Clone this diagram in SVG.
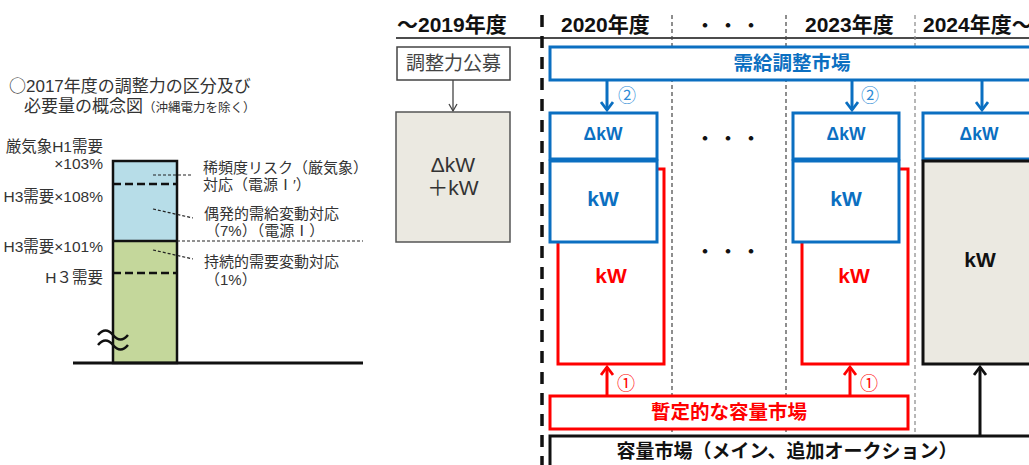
<svg xmlns="http://www.w3.org/2000/svg" width="1029" height="465" viewBox="0 0 1029 465">
<defs>
<style>
text{font-family:"Liberation Sans","Noto Sans CJK JP",sans-serif}
.cjk{font-family:"Noto Sans CJK JP",sans-serif}
.lt{font-size:15.5px;fill:#333}
.hdr{font-size:21px;font-weight:bold;fill:#111}
.blue{fill:#0b6fc1;font-weight:bold}
.red{fill:#ff0000;font-weight:bold}
.bk{fill:#111;font-weight:bold}
.bbox{fill:#fff;stroke:#0b6fc1;stroke-width:3}
.thin{stroke:#444;stroke-width:1.2;stroke-dasharray:4 3;fill:none}
.lead{stroke:#222;stroke-width:1.2;stroke-dasharray:3 2;fill:none}
.num{font-family:"Noto Sans CJK JP",sans-serif;font-size:18px}
</style>
<marker id="ab" markerWidth="12" markerHeight="14" refX="9" refY="7" orient="auto" markerUnits="userSpaceOnUse"><path d="M1 1 L9 7 L1 13" fill="none" stroke="#0b6fc1" stroke-width="2.8"/></marker>
<marker id="ar" markerWidth="12" markerHeight="14" refX="9" refY="7" orient="auto" markerUnits="userSpaceOnUse"><path d="M1 1 L9 7 L1 13" fill="none" stroke="#ff0000" stroke-width="2.8"/></marker>
<marker id="ak" markerWidth="12" markerHeight="14" refX="9" refY="7" orient="auto" markerUnits="userSpaceOnUse"><path d="M1 1 L9 7 L1 13" fill="none" stroke="#111" stroke-width="2.8"/></marker>
<marker id="ag" markerWidth="10" markerHeight="10" refX="8" refY="5" orient="auto" markerUnits="userSpaceOnUse"><path d="M1 1 L8 5 L1 9" fill="none" stroke="#444" stroke-width="1.3"/></marker>
</defs>
<rect width="1029" height="465" fill="#fff"/>

<g id="left-chart">
<text x="9" y="92" class="lt" style="font-size:17px"><tspan class="cjk">○</tspan>2017年度の調整力の区分及び</text>
<text x="24" y="112" class="lt" style="font-size:17px">必要量の概念図<tspan style="font-size:12.5px">（沖縄電力を除く）</tspan></text>
<rect x="113" y="161" width="64" height="80" fill="#b7dde8"/>
<rect x="113" y="241" width="64" height="122" fill="#c4d79b"/>
<rect x="113" y="161" width="64" height="202" fill="none" stroke="#111" stroke-width="2.5"/>
<line x1="113" y1="241" x2="177" y2="241" stroke="#111" stroke-width="2.5"/>
<line x1="113" y1="184" x2="177" y2="184" stroke="#111" stroke-width="2.5" stroke-dasharray="8 4"/>
<line x1="113" y1="273" x2="177" y2="273" stroke="#111" stroke-width="2.5" stroke-dasharray="8 4"/>
<line x1="73" y1="363" x2="363" y2="363" stroke="#111" stroke-width="3"/>
<line x1="177" y1="241" x2="363" y2="241" class="lead"/>
<line x1="153" y1="175" x2="193" y2="175" class="lead"/>
<line x1="153" y1="209" x2="193" y2="218" class="lead"/>
<line x1="153" y1="250" x2="193" y2="259" class="lead"/>
<path d="M98 335 q7.5 -9 15 0 t15 0 M98 345 q7.5 -9 15 0 t15 0" fill="none" stroke="#111" stroke-width="2.5"/>
<text x="103" y="152" class="lt" text-anchor="end">厳気象H1需要</text>
<text x="103" y="169" class="lt" text-anchor="end">×103%</text>
<text x="103" y="202" class="lt" text-anchor="end">H3需要×108%</text>
<text x="103" y="252" class="lt" text-anchor="end">H3需要×101%</text>
<text x="103" y="283" class="lt" text-anchor="end">H３需要</text>
<text x="203" y="173" class="lt" style="font-size:15px">稀頻度リスク（厳気象）</text>
<text x="203" y="190" class="lt" style="font-size:15px">対応（電源Ⅰ′）</text>
<text x="204" y="219" class="lt" style="font-size:15px">偶発的需給変動対応</text>
<text x="205" y="236" class="lt" style="font-size:15px">（7%）（電源Ⅰ）</text>
<text x="204" y="267" class="lt" style="font-size:15px">持続的需要変動対応</text>
<text x="205" y="285" class="lt" style="font-size:15px">（1%）</text>
</g>

<g id="grid">
<line x1="396" y1="38" x2="1029" y2="38" stroke="#111" stroke-width="1.5"/>
<line x1="542" y1="15" x2="542" y2="465" stroke="#111" stroke-width="3.5" stroke-dasharray="12 9"/>
<line x1="672" y1="15" x2="672" y2="436" class="thin"/>
<line x1="786" y1="15" x2="786" y2="436" class="thin"/>
<line x1="915" y1="15" x2="915" y2="436" class="thin" style="stroke:#888"/>
<text x="397" y="32" class="hdr">～2019年度</text>
<text x="561" y="32" class="hdr">2020年度</text>
<text x="728" y="32" class="hdr" text-anchor="middle" style="font-size:18px">・ ・ ・</text>
<text x="805" y="32" class="hdr">2023年度</text>
<text x="923" y="32" class="hdr">2024年度～</text>
</g>

<g id="connectors">
<line x1="453" y1="80" x2="453" y2="111" stroke="#444" stroke-width="1.3" marker-end="url(#ag)"/>
<line x1="607" y1="80" x2="607" y2="110" stroke="#0b6fc1" stroke-width="3" marker-end="url(#ab)"/>
<line x1="852" y1="80" x2="852" y2="110" stroke="#0b6fc1" stroke-width="3" marker-end="url(#ab)"/>
<line x1="982" y1="80" x2="982" y2="110" stroke="#0b6fc1" stroke-width="3" marker-end="url(#ab)"/>
<line x1="607" y1="396" x2="607" y2="367" stroke="#ff0000" stroke-width="3" marker-end="url(#ar)"/>
<line x1="850" y1="396" x2="850" y2="367" stroke="#ff0000" stroke-width="3" marker-end="url(#ar)"/>
<line x1="980" y1="436" x2="980" y2="367" stroke="#111" stroke-width="3" marker-end="url(#ak)"/>
<text x="618" y="102" class="num" style="fill:#2e8bd6">②</text>
<text x="861" y="102" class="num" style="fill:#2e8bd6">②</text>
<text x="617" y="390" class="num" style="fill:#ff0000">①</text>
<text x="860" y="390" class="num" style="fill:#ff0000">①</text>
</g>

<g id="n-koubo">
<rect x="397" y="47" width="113" height="33" fill="#fff" stroke="#444" stroke-width="1.5"/>
<text x="453.5" y="70" text-anchor="middle" style="font-size:19px;fill:#444">調整力公募</text>
</g>
<g id="n-old-kw">
<rect x="396" y="112" width="114" height="130" fill="#ebe9e1" stroke="#555" stroke-width="1.5"/>
<text x="453" y="172" text-anchor="middle" style="font-size:21px;fill:#333">ΔkW</text>
<text x="453" y="195" text-anchor="middle" style="font-size:21px;fill:#333">＋kW</text>
</g>

<g id="n-jukyu">
<rect x="550" y="47" width="490" height="33" class="bbox"/>
<text x="792" y="70" text-anchor="middle" class="blue" style="font-size:19.5px">需給調整市場</text>
</g>

<g id="n-2020">
<path d="M657 169 H664 V364 H558 V242" fill="none" stroke="#ff0000" stroke-width="3"/>
<rect x="550" y="113" width="107" height="46" class="bbox"/>
<rect x="550" y="161" width="107" height="81" class="bbox"/>
<text x="603" y="140" text-anchor="middle" class="blue" style="font-size:17.5px">ΔkW</text>
<text x="603" y="206" text-anchor="middle" class="blue" style="font-size:21px">kW</text>
<text x="611" y="283" text-anchor="middle" class="red" style="font-size:21px">kW</text>
</g>

<g id="n-dots">
<text x="728" y="145" text-anchor="middle" class="bk" style="font-size:18px">・ ・ ・</text>
<text x="728" y="258" text-anchor="middle" class="bk" style="font-size:18px">・ ・ ・</text>
</g>

<g id="n-2023">
<path d="M899 169 H908 V364 H802 V242" fill="none" stroke="#ff0000" stroke-width="3"/>
<rect x="793" y="113" width="106" height="46" class="bbox"/>
<rect x="793" y="161" width="106" height="81" class="bbox"/>
<text x="846" y="140" text-anchor="middle" class="blue" style="font-size:17.5px">ΔkW</text>
<text x="846" y="206" text-anchor="middle" class="blue" style="font-size:21px">kW</text>
<text x="854" y="283" text-anchor="middle" class="red" style="font-size:21px">kW</text>
</g>

<g id="n-2024">
<rect x="923" y="113" width="120" height="46" class="bbox"/>
<rect x="923" y="161" width="120" height="203" fill="#ebe9e1" stroke="#111" stroke-width="3"/>
<text x="979" y="140" text-anchor="middle" class="blue" style="font-size:17.5px">ΔkW</text>
<text x="980" y="267" text-anchor="middle" class="bk" style="font-size:21px">kW</text>
</g>

<g id="n-zantei">
<rect x="550" y="396" width="358" height="33" fill="#fff" stroke="#ff0000" stroke-width="3"/>
<text x="729" y="419" text-anchor="middle" class="red" style="font-size:19.5px">暫定的な容量市場</text>
</g>

<g id="n-youryou">
<rect x="550" y="436" width="490" height="40" fill="#fff" stroke="#111" stroke-width="3"/>
<text x="787" y="458" text-anchor="middle" class="bk" style="font-size:19px">容量市場（メイン、追加オークション）</text>
</g>
</svg>
